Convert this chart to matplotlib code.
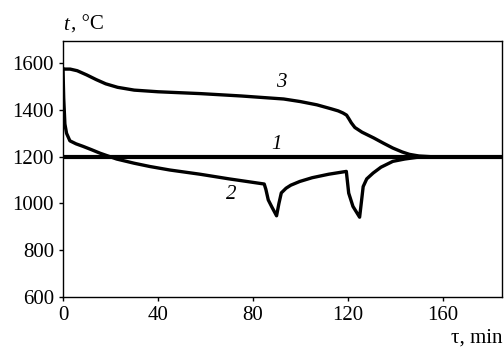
import matplotlib
matplotlib.use("Agg")
import matplotlib.pyplot as plt

# curve 1: constant
t1 = [0, 185]
v1 = [1200, 1200]

# curve 2
t2 = [0, 0.3, 0.8, 1.5, 2.9, 5.5, 8.5, 12, 15.6, 22.6, 30, 36.6, 45, 57.7, 70, 84.8,
      85.5, 86.5, 88, 90, 91, 92, 94, 96, 99.8, 105, 112, 119.4,
      120.4, 122.2, 125, 125.8, 126.5, 128, 130.7, 134, 139, 144, 149, 155, 165, 185]
v2 = [1575, 1450, 1340, 1300, 1268, 1255, 1244, 1230, 1215, 1190, 1172, 1158, 1143, 1125, 1105, 1083,
      1060, 1015, 985, 947, 1000, 1045, 1065, 1078, 1094, 1110, 1125, 1137,
      1044, 987, 941, 1010, 1072, 1105, 1130, 1155, 1180, 1190, 1197, 1200, 1200, 1200]

# curve 3
t3 = [0, 3, 6, 10, 14, 18, 23, 30, 40, 58, 75, 93, 100, 107, 113, 116, 118, 119.5, 120.5, 121.5,
      123, 126, 131, 135, 139, 143, 146, 150, 155, 160, 185]
v3 = [1575, 1575, 1568, 1550, 1530, 1512, 1497, 1485, 1478, 1470, 1460, 1447, 1436, 1422, 1405, 1396, 1387, 1378, 1362, 1345,
      1325, 1305, 1280, 1258, 1237, 1220, 1210, 1203, 1200, 1200, 1200]

xticks = [0, 40, 80, 120, 160]
yticks = [600, 800, 1000, 1200, 1400, 1600]

plt.rcParams['font.family'] = ['Liberation Serif', 'DejaVu Serif']

fig = plt.figure(figsize=(5.04, 3.48), dpi=100)
ax = fig.add_axes([0.125, 0.147, 0.871, 0.735])

ax.plot(t1, v1, color='black', lw=3.0, solid_capstyle='butt')
ax.plot(t2, v2, color='black', lw=2.4, solid_joinstyle='round')
ax.plot(t3, v3, color='black', lw=2.4, solid_joinstyle='round')

ax.set_xlim(0, 185)
ax.set_ylim(600, 1695)
ax.set_xticks(xticks)
ax.set_yticks(yticks)
ax.tick_params(direction='out', length=3, width=1, labelsize=15, colors='black')
for s in ax.spines.values():
    s.set_linewidth(1.0)

ax.text(92, 1475, '3', style='italic', fontsize=15, ha='center', va='bottom')
ax.text(90, 1212, '1', style='italic', fontsize=15, ha='center', va='bottom')
ax.text(71, 1040, '2', style='italic', fontsize=15, ha='center', va='center')

fig.text(0.125, 0.928, 't', style='italic', fontsize=15, ha='left', va='center')
fig.text(0.140, 0.928, ', °C', fontsize=15, ha='left', va='center')
fig.text(0.998, 0.03, 'τ, min', fontsize=15, ha='right', va='center')

fig.savefig('out.png', dpi=100)
